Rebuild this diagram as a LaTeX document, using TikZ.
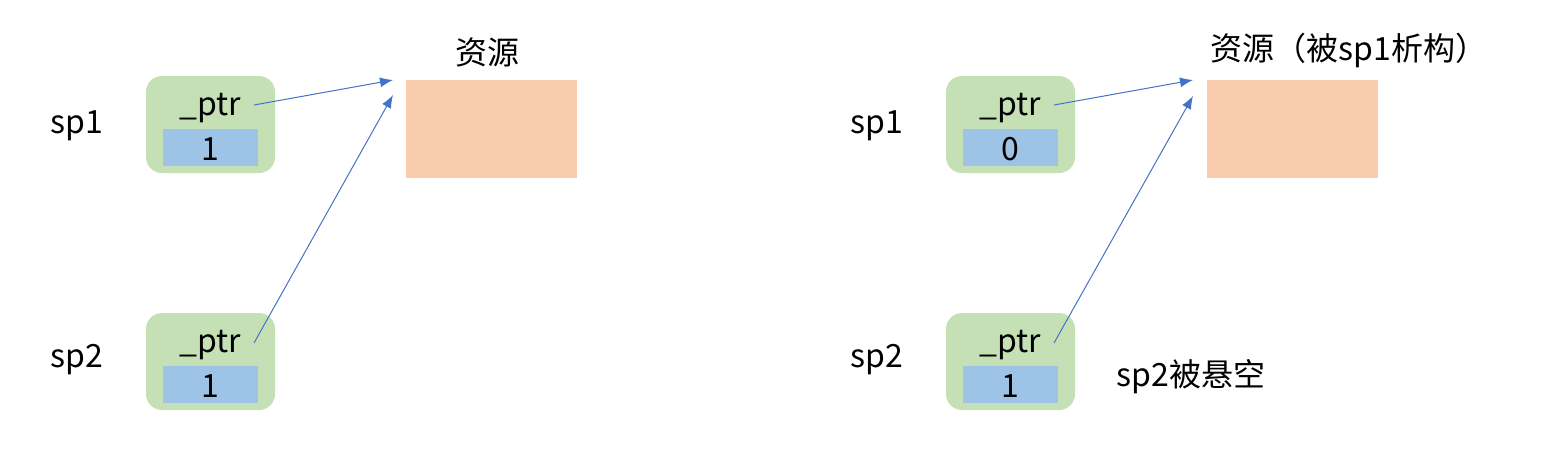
\documentclass[tikz,border=0pt]{standalone}
\usepackage{fontspec}
\setmainfont{Noto Sans CJK SC}
\usepackage{xcolor}
\usepackage{tikz}
\usetikzlibrary{positioning,calc,arrows.meta}

\definecolor{ptrgreen}{HTML}{C5E0B4}
\definecolor{cntblue}{HTML}{9DC3E6}
\definecolor{resorange}{HTML}{F8CBAD}
\definecolor{arrowblue}{HTML}{4472C4}

\begin{document}
\begin{tikzpicture}[
    x=0.5pt, y=-0.5pt,
    font=\fontsize{16}{19}\selectfont,
    ptrbox/.style={rectangle, rounded corners=8pt, fill=ptrgreen, minimum width=64.5pt, minimum height=48.5pt, inner sep=0pt},
    cntbox/.style={rectangle, fill=cntblue, minimum width=47.5pt, minimum height=18.5pt, inner sep=0pt},
    resbox/.style={rectangle, fill=resorange, minimum width=85.5pt, minimum height=49pt, inner sep=0pt},
    arrow/.style={draw=arrowblue, line width=0.5pt, -{Latex[length=6.5pt,width=5pt]}}
]
\useasboundingbox (0,0) rectangle (1562,471);

% Left: both pointers share the resource
\node (sp1L) at (77,126) {sp1};
\node (sp2L) at (77,360) {sp2};
\node (boxA) [ptrbox] at (210.5,124.5) {};
\node (cntA) [cntbox] at (210.5,147.5) {};
\node (numA) at (210.5,149) {1};
\node (ptrA) at (210.5,108) {\_ptr};
\node (boxB) [ptrbox] at (210.5,361.5) {};
\node (cntB) [cntbox] at (210.5,384.5) {};
\node (numB) at (210.5,386) {1};
\node (ptrB) at (210.5,345) {\_ptr};
\node (resL) [resbox] at (491.5,129) {};
\node (resLlabel) at (487,52) {资源};

\coordinate (tailA) at (254,105);
\coordinate (tailB) at (254,343);
\coordinate (headA) at (393,80);
\coordinate (headB) at (393,95);
\draw [arrow] (tailA) -- (headA);
\draw [arrow] (tailB) -- (headB);

% Right: sp1 destructs the resource, sp2 dangles
\node (sp1R) at (877,126) {sp1};
\node (sp2R) at (877,360) {sp2};
\node (boxC) [ptrbox] at (1010.5,124.5) {};
\node (cntC) [cntbox] at (1010.5,147.5) {};
\node (numC) at (1010.5,149) {0};
\node (ptrC) at (1010.5,108) {\_ptr};
\node (boxD) [ptrbox] at (1010.5,361.5) {};
\node (cntD) [cntbox] at (1010.5,384.5) {};
\node (numD) at (1010.5,386) {1};
\node (ptrD) at (1010.5,345) {\_ptr};
\node (resR) [resbox] at (1292,129) {};
\node (resRlabel) at (1349,50) {资源（被sp1析构）};
\node (dangle) at (1191,377) {sp2被悬空};

\coordinate (tailC) at (1054,105);
\coordinate (tailD) at (1054,343);
\coordinate (headC) at (1193,80);
\coordinate (headD) at (1193,96);
\draw [arrow] (tailC) -- (headC);
\draw [arrow] (tailD) -- (headD);

\end{tikzpicture}
\end{document}
